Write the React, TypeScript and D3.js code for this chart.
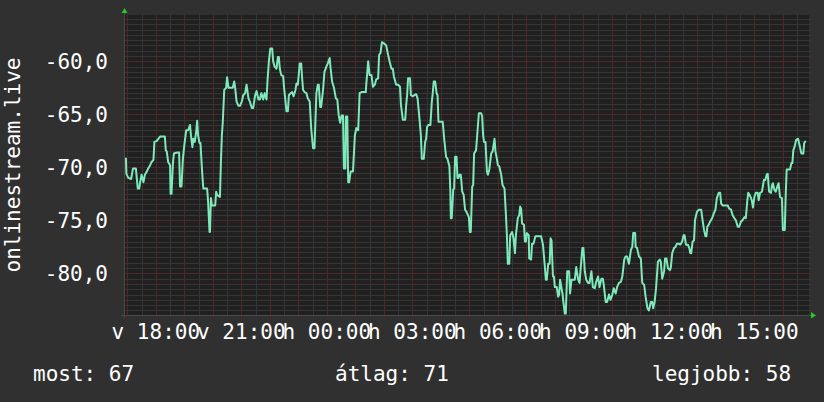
import * as React from "react";
import * as d3 from "d3";

// RRD style graph: onlinestream.live, last 24 hours
const seriesName = "onlinestream.live";
const startTime = new Date(2024, 5, 2, 16, 53); // vasárnap
const endTime = new Date(2024, 5, 3, 16, 55);
const yDomain = [-83.93, -55.63];
const yLabelTicks = [-80, -75, -70, -65, -60];
const dayNames = ["v", "h", "k", "sze", "cs", "p", "szo"];
const legendLabels = ["most", "átlag", "legjobb"];
const legendValues = [67, 71, 58];

// [minutes since start, value]
const samplesEvening: [number, number][] = [
  [4, -69.1], [5, -70.6], [9, -71.0], [15, -71.1], [19, -70.1], [25, -70.1], [29, -72.0], [32, -72.0],
  [34, -71.4], [37, -70.7], [41, -71.4], [44, -70.7], [48, -70.4], [51, -70.1], [55, -69.8], [58, -69.5],
  [62, -69.3], [64, -67.6], [69, -67.5], [76, -67.1], [86, -67.1], [88, -68.4], [90, -68.5], [93, -69.5],
  [97, -69.8], [98, -72.5], [100, -72.5], [103, -69.6], [105, -68.7], [112, -68.6], [116, -68.6], [118, -71.8],
  [121, -71.8], [124, -69.2], [127, -67.9], [131, -66.5], [135, -66.5], [139, -66.0], [141, -67.0], [144, -68.1],
  [146, -67.3], [149, -67.6], [152, -66.6], [154, -65.6], [156, -67.0], [159, -67.7], [161, -67.7], [164, -70.1],
  [166, -71.4], [167, -72.0], [175, -72.0], [177, -73.2], [180, -76.1], [181, -76.1], [183, -72.9], [185, -73.6],
  [192, -73.6], [194, -72.3], [196, -72.6], [202, -72.8], [204, -69.5], [206, -67.0], [208, -65.7], [211, -62.7],
  [215, -62.5], [217, -61.5], [220, -62.5], [229, -62.5], [232, -61.9], [234, -62.5], [237, -63.8], [241, -64.2],
  [244, -64.2], [248, -63.8], [251, -63.2], [255, -63.0], [258, -62.2], [262, -63.5], [265, -63.8], [269, -64.4],
  [272, -64.4], [276, -63.2], [279, -62.8], [283, -63.6], [286, -63.6],
];
const samplesNight: [number, number][] = [
  [289, -63.0], [293, -63.6], [296, -63.0], [300, -63.6], [302, -61.9], [305, -60.0], [308, -58.8], [312, -58.8],
  [314, -60.0], [317, -60.5], [321, -60.7], [324, -59.6], [326, -59.6], [328, -60.7], [331, -61.3], [335, -61.4],
  [337, -62.5], [340, -63.8], [342, -64.7], [345, -64.7], [347, -63.2], [351, -63.0], [354, -62.9], [357, -63.3],
  [361, -62.7], [363, -62.1], [366, -62.2], [370, -60.2], [373, -60.2], [375, -61.6], [377, -62.7], [380, -62.9],
  [384, -63.0], [387, -63.5], [391, -63.8], [394, -66.3], [398, -68.2], [401, -68.2], [405, -63.0], [408, -62.2],
  [410, -62.2], [413, -64.3], [415, -64.3], [419, -62.7], [422, -61.0], [426, -60.5], [429, -60.2], [433, -59.7],
  [435, -60.7], [438, -61.9], [442, -62.5], [446, -63.5], [449, -63.6], [452, -65.1], [455, -65.8], [458, -65.1],
  [461, -65.1], [463, -70.1], [466, -70.1], [467, -65.2], [470, -65.2], [472, -71.4], [474, -71.4], [477, -70.4],
  [482, -70.4], [486, -67.0], [489, -66.3], [493, -66.5], [496, -63.0], [500, -62.9], [509, -62.9], [510, -62.2],
  [514, -60.0], [517, -61.3], [521, -61.3], [524, -62.4], [528, -62.2], [531, -61.7], [535, -61.6], [537, -59.4],
  [540, -59.2], [543, -58.2], [547, -58.3], [552, -58.5], [556, -59.4], [559, -60.0], [563, -60.7], [566, -60.7],
  [568, -61.4], [573, -62.2], [577, -62.2],
];
const samplesEarly: [number, number][] = [
  [581, -62.4], [583, -64.1], [587, -65.5], [592, -65.5], [594, -64.1], [596, -63.2], [598, -61.6], [602, -61.6],
  [604, -63.2], [608, -63.3], [611, -63.2], [615, -63.1], [618, -63.5], [622, -65.4], [625, -67.0], [627, -69.2],
  [631, -69.2], [634, -67.6], [636, -67.3], [638, -66.2], [641, -66.0], [645, -66.0], [648, -63.8], [650, -63.0],
  [652, -61.9], [655, -61.9], [658, -63.0], [660, -63.2], [662, -65.7], [671, -65.7], [674, -67.3], [678, -69.0],
  [681, -69.2], [685, -69.9], [687, -72.3], [688, -74.8], [690, -74.8], [693, -72.1], [695, -72.0], [697, -69.0],
  [700, -69.0], [702, -71.0], [704, -71.0], [706, -70.7], [709, -70.7], [712, -72.3], [715, -72.6], [718, -74.0],
  [721, -74.2], [726, -74.7], [728, -76.1], [730, -76.1], [733, -71.8], [735, -71.7], [737, -68.7], [741, -68.4],
  [743, -67.3], [747, -64.9], [752, -64.9], [754, -65.2], [756, -67.0], [758, -67.6], [761, -67.6], [764, -70.4],
  [766, -70.7], [769, -70.2], [773, -68.7], [776, -68.5], [780, -67.3], [782, -68.5], [785, -69.2], [787, -69.8],
  [790, -69.9], [794, -70.7], [797, -71.7], [801, -72.0], [804, -74.5], [806, -76.4], [808, -79.1], [811, -79.1],
  [813, -76.4], [817, -76.1], [820, -76.7], [823, -78.1], [825, -76.4], [829, -74.8], [832, -74.5], [834, -73.7],
  [836, -73.9], [838, -75.3], [842, -75.4], [844, -77.0], [846, -77.0], [848, -76.2], [852, -76.4], [853, -78.6],
  [857, -78.7], [859, -77.2], [862, -77.2], [866, -76.5], [871, -76.5],
];
const samplesMorning: [number, number][] = [
  [876, -76.5], [878, -76.5], [882, -77.3], [886, -79.4], [888, -80.6], [890, -80.6], [893, -79.1], [896, -79.1],
  [898, -76.7], [900, -76.9], [903, -80.3], [905, -80.3], [907, -81.3], [911, -81.3], [914, -82.2], [916, -82.0],
  [918, -80.6], [921, -81.4], [923, -81.9], [925, -82.7], [928, -83.8], [930, -83.8], [933, -79.8], [937, -79.8],
  [939, -81.9], [942, -80.6], [949, -80.6], [952, -79.4], [956, -80.6], [959, -80.9], [961, -79.7], [965, -77.6],
  [967, -77.6], [970, -79.8], [973, -80.6], [977, -80.9], [980, -80.9], [984, -79.8], [987, -81.3], [991, -81.4],
  [994, -80.8], [998, -80.3], [1001, -81.3], [1005, -80.5], [1008, -80.5], [1010, -81.1], [1014, -82.7], [1017, -82.7],
  [1021, -82.0], [1024, -82.5], [1028, -82.0], [1031, -81.4], [1035, -81.9], [1038, -81.3], [1042, -80.9], [1046, -80.8],
  [1049, -80.3], [1053, -78.7], [1056, -78.4], [1059, -78.4], [1063, -79.1], [1067, -77.8], [1070, -77.5], [1072, -76.2],
  [1076, -76.2], [1077, -77.5], [1080, -77.6], [1084, -78.4], [1088, -78.6], [1091, -80.9], [1095, -81.1], [1098, -82.2],
  [1102, -83.3], [1105, -83.5], [1109, -82.7], [1112, -82.7], [1114, -83.3], [1117, -82.7], [1120, -81.4], [1124, -78.9],
  [1128, -78.7], [1130, -78.9], [1133, -80.5], [1137, -79.8], [1139, -78.6], [1142, -78.6], [1145, -79.5], [1149, -79.7],
  [1151, -79.5], [1154, -78.1], [1158, -77.6], [1161, -77.5],
];
const samplesAfternoon: [number, number][] = [
  [1164, -77.2], [1168, -77.2], [1171, -77.3], [1175, -77.0], [1178, -76.4], [1180, -76.4], [1183, -77.3], [1187, -77.3],
  [1190, -77.6], [1192, -78.1], [1194, -78.1], [1197, -77.0], [1200, -76.9], [1202, -75.0], [1206, -74.2], [1210, -74.0],
  [1215, -74.0], [1218, -75.0], [1221, -75.9], [1224, -76.5], [1226, -76.5], [1228, -75.6], [1231, -75.4], [1234, -75.1],
  [1238, -74.8], [1242, -74.3], [1245, -74.0], [1248, -72.9], [1252, -72.4], [1255, -72.4], [1257, -73.4], [1260, -73.6],
  [1271, -73.6], [1274, -73.9], [1278, -74.0], [1281, -74.5], [1285, -74.8], [1288, -75.0], [1292, -75.6], [1295, -75.6],
  [1299, -75.1], [1302, -75.0], [1306, -74.7], [1309, -74.8], [1312, -73.2], [1314, -72.4], [1317, -72.6], [1320, -72.9],
  [1322, -73.2], [1324, -73.8], [1327, -72.8], [1330, -72.4], [1334, -72.4], [1336, -73.1], [1339, -72.4], [1343, -72.3],
  [1347, -71.2], [1350, -71.2], [1353, -70.7], [1355, -70.6], [1358, -72.3], [1362, -72.4], [1364, -71.7], [1366, -71.5],
  [1369, -72.1], [1372, -72.3], [1376, -71.7], [1378, -71.5], [1381, -72.8], [1385, -72.9], [1387, -75.9], [1391, -75.9],
  [1393, -72.6], [1395, -70.2], [1399, -70.2], [1402, -70.2], [1405, -69.6], [1407, -69.6], [1409, -68.4], [1412, -68.0],
  [1415, -67.4], [1419, -67.3], [1422, -67.9], [1426, -68.7], [1430, -68.7], [1432, -67.7], [1435, -67.5],
];

const W = 824;
const H = 402;
const left = 124;
const right = 809;
const top = 15;
const bottom = 315;
const font = "'DejaVu Sans Mono', monospace";

export default function App() {
  const x = d3.scaleTime().domain([startTime, endTime]).range([left, right]);
  const y = d3.scaleLinear().domain(yDomain).range([bottom, top]);

  const samples = [
    ...samplesEvening,
    ...samplesNight,
    ...samplesEarly,
    ...samplesMorning,
    ...samplesAfternoon,
  ];
  const toDate = (m: number) => new Date(startTime.getTime() + m * 60000);
  const line = d3
    .line<[number, number]>()
    .x(d => x(toDate(d[0])))
    .y(d => y(d[1]));

  const halfHours = d3.timeMinute.every(30)!.range(startTime, endTime);
  const minorX = halfHours.filter(d => d.getMinutes() !== 0);
  const majorX = d3.timeHour.range(startTime, endTime);
  const labelX = d3.timeHour.every(3)!.range(startTime, endTime);

  const minorY: number[] = [];
  for (let v = Math.ceil(yDomain[0] * 2) / 2; v <= yDomain[1]; v += 0.5) {
    if (Math.abs(v % 5) > 0.01) minorY.push(v);
  }

  const fmtTime = (d: Date) =>
    dayNames[d.getDay()] + " " + d3.timeFormat("%H:%M")(d);
  const fmtVal = (v: number) => v.toFixed(1).replace(".", ",");

  // dotted grid of the original, drawn as its average tone
  const minorColor = "#353535";
  const majorColor = "#4c2828";
  const px = (v: number) => Math.round(v) + 0.5;

  return (
    <svg
      width={W}
      height={H}
      style={{ position: "absolute", left: 0, top: 0, background: "#303030" }}
      fontFamily={font}
    >
      <rect width={W} height={H} fill="#303030" />
      <rect x={left} y={top} width={right - left} height={bottom - top} fill="#202020" />

      <g strokeWidth={1} fill="none" shapeRendering="crispEdges">
        {minorY.map(v => (
          <path key={"my" + v} d={`M${left - 2},${px(y(v))}H${right + 3}`} stroke={minorColor} />
        ))}
        {minorX.map(d => (
          <path key={"mx" + +d} d={`M${px(x(d))},${top - 2}V${bottom + 3}`} stroke={minorColor} />
        ))}
        {yLabelTicks.map(v => (
          <path key={"My" + v} d={`M${left - 2},${px(y(v))}H${right + 3}`} stroke={majorColor} />
        ))}
        {majorX.map(d => (
          <path key={"Mx" + +d} d={`M${px(x(d))},${top - 2}V${bottom + 3}`} stroke={majorColor} />
        ))}
      </g>

      {/* axes */}
      <g stroke="#4a4a4a" strokeWidth={1} shapeRendering="crispEdges">
        <line x1={left + 0.5} x2={left + 0.5} y1={bottom + 3} y2={top - 4} />
        <line x1={left - 3} x2={right + 3} y1={bottom + 0.5} y2={bottom + 0.5} />
      </g>
      <polygon points={`${left - 2.5},13 ${left + 3.5},13 ${left + 0.5},8`} fill="#22cc22" />
      <polygon points={`${right + 2},312 ${right + 2},318.5 ${right + 7},315.5`} fill="#22cc22" />

      <path
        d={line(samples) || ""}
        fill="none"
        stroke="#7ee9ba"
        strokeWidth={2}
        strokeLinejoin="round"
      />

      <g fill="#ffffff" fontSize={21}>
        {yLabelTicks.map(v => (
          <text key={"yl" + v} x={108} y={y(v) + 8} textAnchor="end">
            {fmtVal(v)}
          </text>
        ))}
        {labelX.map(d => (
          <text key={"xl" + +d} x={x(d)} y={339} textAnchor="middle">
            {fmtTime(d)}
          </text>
        ))}
        <text transform={`translate(20,${(top + bottom) / 2}) rotate(-90)`} textAnchor="middle">
          {seriesName}
        </text>
        <text x={33} y={381}>{`${legendLabels[0]}: ${legendValues[0]}`}</text>
        <text x={335} y={381}>{`${legendLabels[1]}: ${legendValues[1]}`}</text>
        <text x={652} y={381}>{`${legendLabels[2]}: ${legendValues[2]}`}</text>
      </g>
    </svg>
  );
}
